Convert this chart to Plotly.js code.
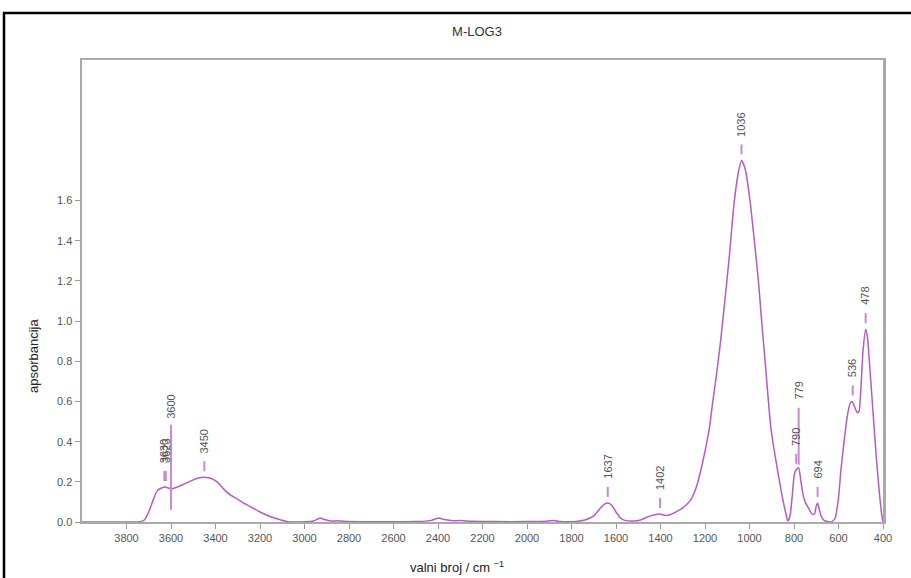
<!DOCTYPE html>
<html>
<head>
<meta charset="utf-8">
<script src="https://cdn.plot.ly/plotly-3.0.1.min.js"></script>
<style>
  html, body { margin: 0; padding: 0; background: #fff; }
  #chart { width: 911px; height: 578px; }
</style>
</head>
<body>
<div id="chart"></div>
<script>
// ---- data ----
const wavenumber = [
  4000, 3900, 3800, 3740, 3720, 3700, 3680, 3662, 3645, 3626, 3610, 3595, 3570, 3540, 3510, 3480,
  3455, 3430, 3410, 3388, 3360, 3330, 3300, 3275, 3240, 3200, 3160, 3120, 3080, 3050, 3000,
  2960, 2930, 2910, 2880, 2850, 2800, 2700, 2600, 2500, 2430, 2398, 2370, 2330, 2300, 2250,
  2150, 2000, 1910, 1880, 1850, 1780, 1740, 1700, 1670, 1650, 1637, 1620, 1600, 1580, 1560,
  1520, 1490, 1460, 1430, 1402, 1380, 1360, 1330, 1300, 1264, 1240, 1210, 1180, 1165, 1150,
  1130, 1111, 1090, 1070, 1050, 1036, 1020, 1000, 980, 960, 949, 930, 904, 885, 868, 850,
  838, 828, 818, 808, 798, 790, 779, 770, 760, 750, 735, 720, 708, 700, 694, 688, 678,
  665, 650, 630, 615, 600, 589, 575, 560, 548, 539, 528, 516, 508, 500, 490, 478, 470,
  460, 445, 430, 415, 405, 400
];
const absorbance = [
  0, 0, 0, 0.001, 0.01, 0.05, 0.11, 0.155, 0.168, 0.174, 0.168, 0.165, 0.175, 0.19, 0.205, 0.218,
  0.223, 0.22, 0.212, 0.195, 0.16, 0.132, 0.113, 0.095, 0.074, 0.05, 0.03, 0.015, 0.003, 0, 0.001,
  0.005, 0.02, 0.012, 0.005, 0.006, 0.002, 0.001, 0.001, 0.002, 0.008, 0.02, 0.012, 0.006, 0.007, 0.004,
  0.002, 0.002, 0.004, 0.008, 0.002, 0.003, 0.01, 0.03, 0.07, 0.09, 0.095, 0.085, 0.05, 0.02, 0.008,
  0.005, 0.01, 0.025, 0.035, 0.04, 0.033, 0.035, 0.05, 0.07, 0.11, 0.17, 0.3, 0.47, 0.6, 0.72,
  0.9, 1.1, 1.33, 1.58, 1.74, 1.80, 1.76, 1.62, 1.42, 1.2, 1.05, 0.8, 0.47, 0.33, 0.22, 0.11,
  0.05, 0.005, 0.03, 0.13, 0.24, 0.26, 0.27, 0.21, 0.14, 0.1, 0.07, 0.04, 0.04, 0.08, 0.095, 0.07, 0.03,
  0.008, 0.002, 0.002, 0.02, 0.12, 0.26, 0.4, 0.53, 0.59, 0.60, 0.575, 0.545, 0.55, 0.65, 0.85, 0.96, 0.92,
  0.78, 0.55, 0.32, 0.13, 0.03, 0
];
const peakLabels = ['3630', '3623', '3600', '3450', '1637', '1402', '1036', '790', '779', '694', '536', '478'];
const peakPos    = [3630, 3623, 3600, 3450, 1637, 1402, 1036, 790, 779, 694, 536, 478];
const peakVal    = [0.174, 0.174, 0.165, 0.223, 0.095, 0.04, 1.80, 0.26, 0.27, 0.095, 0.60, 0.96];
const xTicks = [3800, 3600, 3400, 3200, 3000, 2800, 2600, 2400, 2200, 2000, 1800, 1600, 1400, 1200, 1000, 800, 600, 400];
const yTicks = [0, 0.2, 0.4, 0.6, 0.8, 1.0, 1.2, 1.4, 1.6];
const yTickText = ['0.0', '0.2', '0.4', '0.6', '0.8', '1.0', '1.2', '1.4', '1.6'];

// ---- styles ----
const lineColor = '#b45bc4';
const dashColor = '#c78ad3';
const labelFont = { family: 'Liberation Sans Narrow, Liberation Sans, Arial', size: 11, color: '#555' };
// pixel offsets (dash from, dash to, text bottom) above each peak
const labelStyle = peakLabels.map(l => {
  if (l === '3600') return [-21, 64, 68];
  if (l === '779') return [3, 60, 66];
  return [6, 16, 22];
});

const shapes = peakPos.map((p, i) => ({
  type: 'line', xref: 'x', yref: 'y', ysizemode: 'pixel', yanchor: peakVal[i],
  x0: p, x1: p, y0: labelStyle[i][0], y1: labelStyle[i][1],
  line: { color: dashColor, width: 2 }
}));
// outer black frame
shapes.push({
  type: 'rect', xref: 'paper', yref: 'paper',
  x0: (4 - 82) / 801, x1: 1.2, y0: -0.4, y1: (522 - 13) / 462,
  line: { color: '#000', width: 2.5 }, fillcolor: 'rgba(0,0,0,0)', layer: 'above'
});

const annotations = peakPos.map((p, i) => ({
  x: p, y: peakVal[i], xref: 'x', yref: 'y', text: peakLabels[i],
  textangle: -90, showarrow: false, xanchor: 'center', yanchor: 'bottom',
  yshift: labelStyle[i][2], font: labelFont
}));
annotations.push({
  xref: 'paper', yref: 'paper', x: (457 - 82) / 801, y: (522 - 567) / 462,
  text: 'valni broj / cm <sup>−1</sup>', showarrow: false, xanchor: 'center', yanchor: 'middle',
  font: { family: 'Liberation Sans, Arial', size: 13, color: '#222' }
});
annotations.push({
  xref: 'paper', yref: 'paper', x: (33 - 82) / 801, y: (522 - 356) / 462,
  text: 'apsorbancija', textangle: -90, showarrow: false, xanchor: 'center', yanchor: 'middle',
  font: { family: 'Liberation Sans, Arial', size: 13, color: '#222' }
});

const trace = {
  x: wavenumber, y: absorbance, type: 'scatter', mode: 'lines',
  line: { color: lineColor, width: 1.5, shape: 'spline', smoothing: 0.6 },
  hoverinfo: 'x+y'
};

const layout = {
  width: 911, height: 578,
  margin: { l: 82, r: 28, t: 60, b: 56 },
  paper_bgcolor: '#fff', plot_bgcolor: '#fff',
  showlegend: false,
  title: {
    text: 'M-LOG3', x: 477 / 911, xanchor: 'center', xref: 'container',
    y: 1 - 31 / 578, yanchor: 'middle', yref: 'container',
    font: { family: 'Liberation Sans Narrow, Liberation Sans, Arial', size: 13, color: '#333' }
  },
  xaxis: {
    range: [4000, 400], tickvals: xTicks, ticktext: xTicks.map(String),
    showgrid: false, zeroline: false,
    showline: true, linecolor: '#aaa', linewidth: 2, mirror: true,
    ticks: 'outside', ticklen: 5, tickwidth: 1, tickcolor: '#999',
    tickfont: { family: 'Liberation Sans Narrow, Liberation Sans, Arial', size: 11, color: '#555' },
    layer: 'below traces'
  },
  yaxis: {
    range: [0, 2.3], tickvals: yTicks, ticktext: yTickText,
    showgrid: false, zeroline: false,
    showline: true, linecolor: '#aaa', linewidth: 2.5, mirror: true,
    ticks: 'outside', ticklen: 5, tickwidth: 1, tickcolor: '#999',
    tickfont: { family: 'Liberation Sans Narrow, Liberation Sans, Arial', size: 11, color: '#555' },
    layer: 'below traces'
  },
  shapes: shapes,
  annotations: annotations
};

Plotly.newPlot('chart', [trace], layout, { displayModeBar: false, staticPlot: true });
</script>
</body>
</html>
